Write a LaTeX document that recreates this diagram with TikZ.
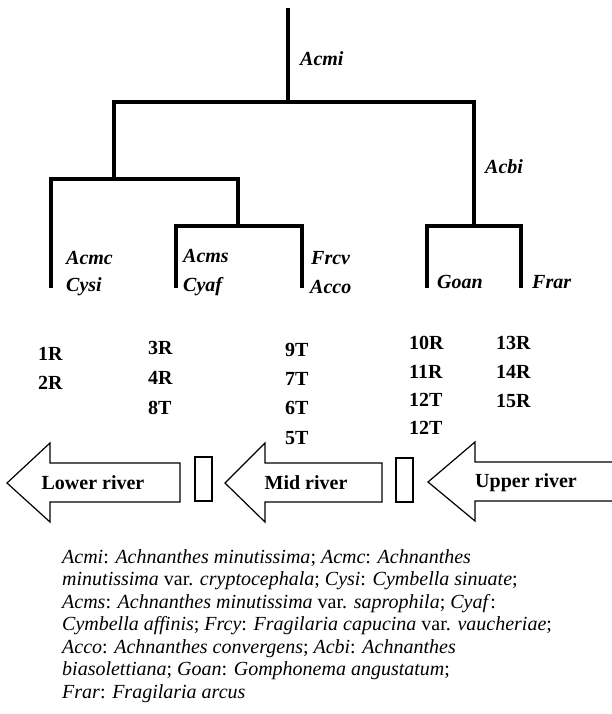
\documentclass[tikz,border=0pt]{standalone}
\usepackage{fontspec}
\setmainfont{Liberation Serif}
\begin{document}
\begin{tikzpicture}[x=1pt, y=-1pt,
	branch/.style={line width=4.5pt, line join=miter},
	taxon/.style={anchor=west, inner sep=0pt, font=\fontsize{20}{22}\selectfont\bfseries\itshape},
	site/.style={anchor=west, inner sep=0pt, font=\fontsize{20}{22}\selectfont\bfseries},
	river/.style={line width=1.2pt, line join=miter},
	rivertext/.style={inner sep=0pt, font=\fontsize{20}{22}\selectfont\bfseries}]

	\useasboundingbox (0,0) rectangle (611,714);

	\coordinate (top) at (288,8);
	\coordinate (n0) at (288,102);
	\coordinate (nL) at (114,179);
	\coordinate (nM) at (238,226);
	\coordinate (nR) at (474,226);
	\coordinate (leaf1) at (51,288);
	\coordinate (leaf2) at (176,288);
	\coordinate (leaf3) at (302,288);
	\coordinate (leaf4) at (427,288);
	\coordinate (leaf5) at (521,288);

	\draw[branch] (top) -- (n0);
	\draw[branch] (nL) |- (n0) -| (nR);
	\draw[branch] (leaf1) |- (nL) -| (nM);
	\draw[branch] (leaf2) |- (nM) -| (leaf3);
	\draw[branch] (leaf4) |- (nR) -| (leaf5);

	\node[taxon] (acmi) at (300,59) {Acmi};
	\node[taxon] (acbi) at (485,167) {Acbi};
	\node[taxon] (acmc) at (66,258) {Acmc};
	\node[taxon] (cysi) at (66,287) {Cysi};
	\node[taxon] (acms) at (183,256) {Acms};
	\node[taxon] (cyaf) at (183,287) {Cyaf};
	\node[taxon] (frcv) at (311,258) {Frcv};
	\node[taxon] (acco) at (310,287) {Acco};
	\node[taxon] (goan) at (437,282) {Goan};
	\node[taxon] (frar) at (532,282) {Frar};

	\node[site] (s1R) at (38,354) {1R};
	\node[site] (s2R) at (38,383) {2R};
	\node[site] (s3R) at (148,348) {3R};
	\node[site] (s4R) at (148,378) {4R};
	\node[site] (s8T) at (148,408) {8T};
	\node[site] (s9T) at (285,350) {9T};
	\node[site] (s7T) at (285,379) {7T};
	\node[site] (s6T) at (285,408) {6T};
	\node[site] (s5T) at (285,438) {5T};
	\node[site] (s10R) at (409,343) {10R};
	\node[site] (s11R) at (409,372) {11R};
	\node[site] (s12T) at (409,400) {12T};
	\node[site] (s12Tb) at (409,428) {12T};
	\node[site] (s13R) at (496,343) {13R};
	\node[site] (s14R) at (496,372) {14R};
	\node[site] (s15R) at (496,401) {15R};

	\draw[river] (7,483) -- (50,443) -- (50,463) -- (180,463) -- (180,502) -- (50,502) -- (50,522) -- cycle;
	\draw[river] (195,457) rectangle (212,501);
	\draw[river] (225,483) -- (265,443) -- (265,463) -- (382,463) -- (382,502) -- (265,502) -- (265,522) -- cycle;
	\draw[river] (396,458) rectangle (413,502);
	\draw[river] (612,462) -- (475,462) -- (475,442) -- (428,482) -- (475,521) -- (475,501) -- (612,501);

	\node[rivertext] (lower) at (93,483) {Lower river};
	\node[rivertext] (mid) at (306,483) {Mid river};
	\node[rivertext] (upper) at (526,483) {Upper river};

	\node[anchor=north west, inner sep=0pt, align=left, font=\fontsize{20}{22.5}\selectfont] (legend) at (62,549) {%
		\textit{Acmi}: \textit{Achnanthes minutissima}; \textit{Acmc}: \textit{Achnanthes}\\
		\textit{minutissima} var. \textit{cryptocephala}; \textit{Cysi}: \textit{Cymbella sinuate};\\
		\textit{Acms}: \textit{Achnanthes minutissima} var. \textit{saprophila}; \textit{Cyaf}:\\
		\textit{Cymbella affinis}; \textit{Frcy}: \textit{Fragilaria capucina} var. \textit{vaucheriae};\\
		\textit{Acco}: \textit{Achnanthes convergens}; \textit{Acbi}: \textit{Achnanthes}\\
		\textit{biasolettiana}; \textit{Goan}: \textit{Gomphonema angustatum};\\
		\textit{Frar}: \textit{Fragilaria arcus}};
\end{tikzpicture}
\end{document}
